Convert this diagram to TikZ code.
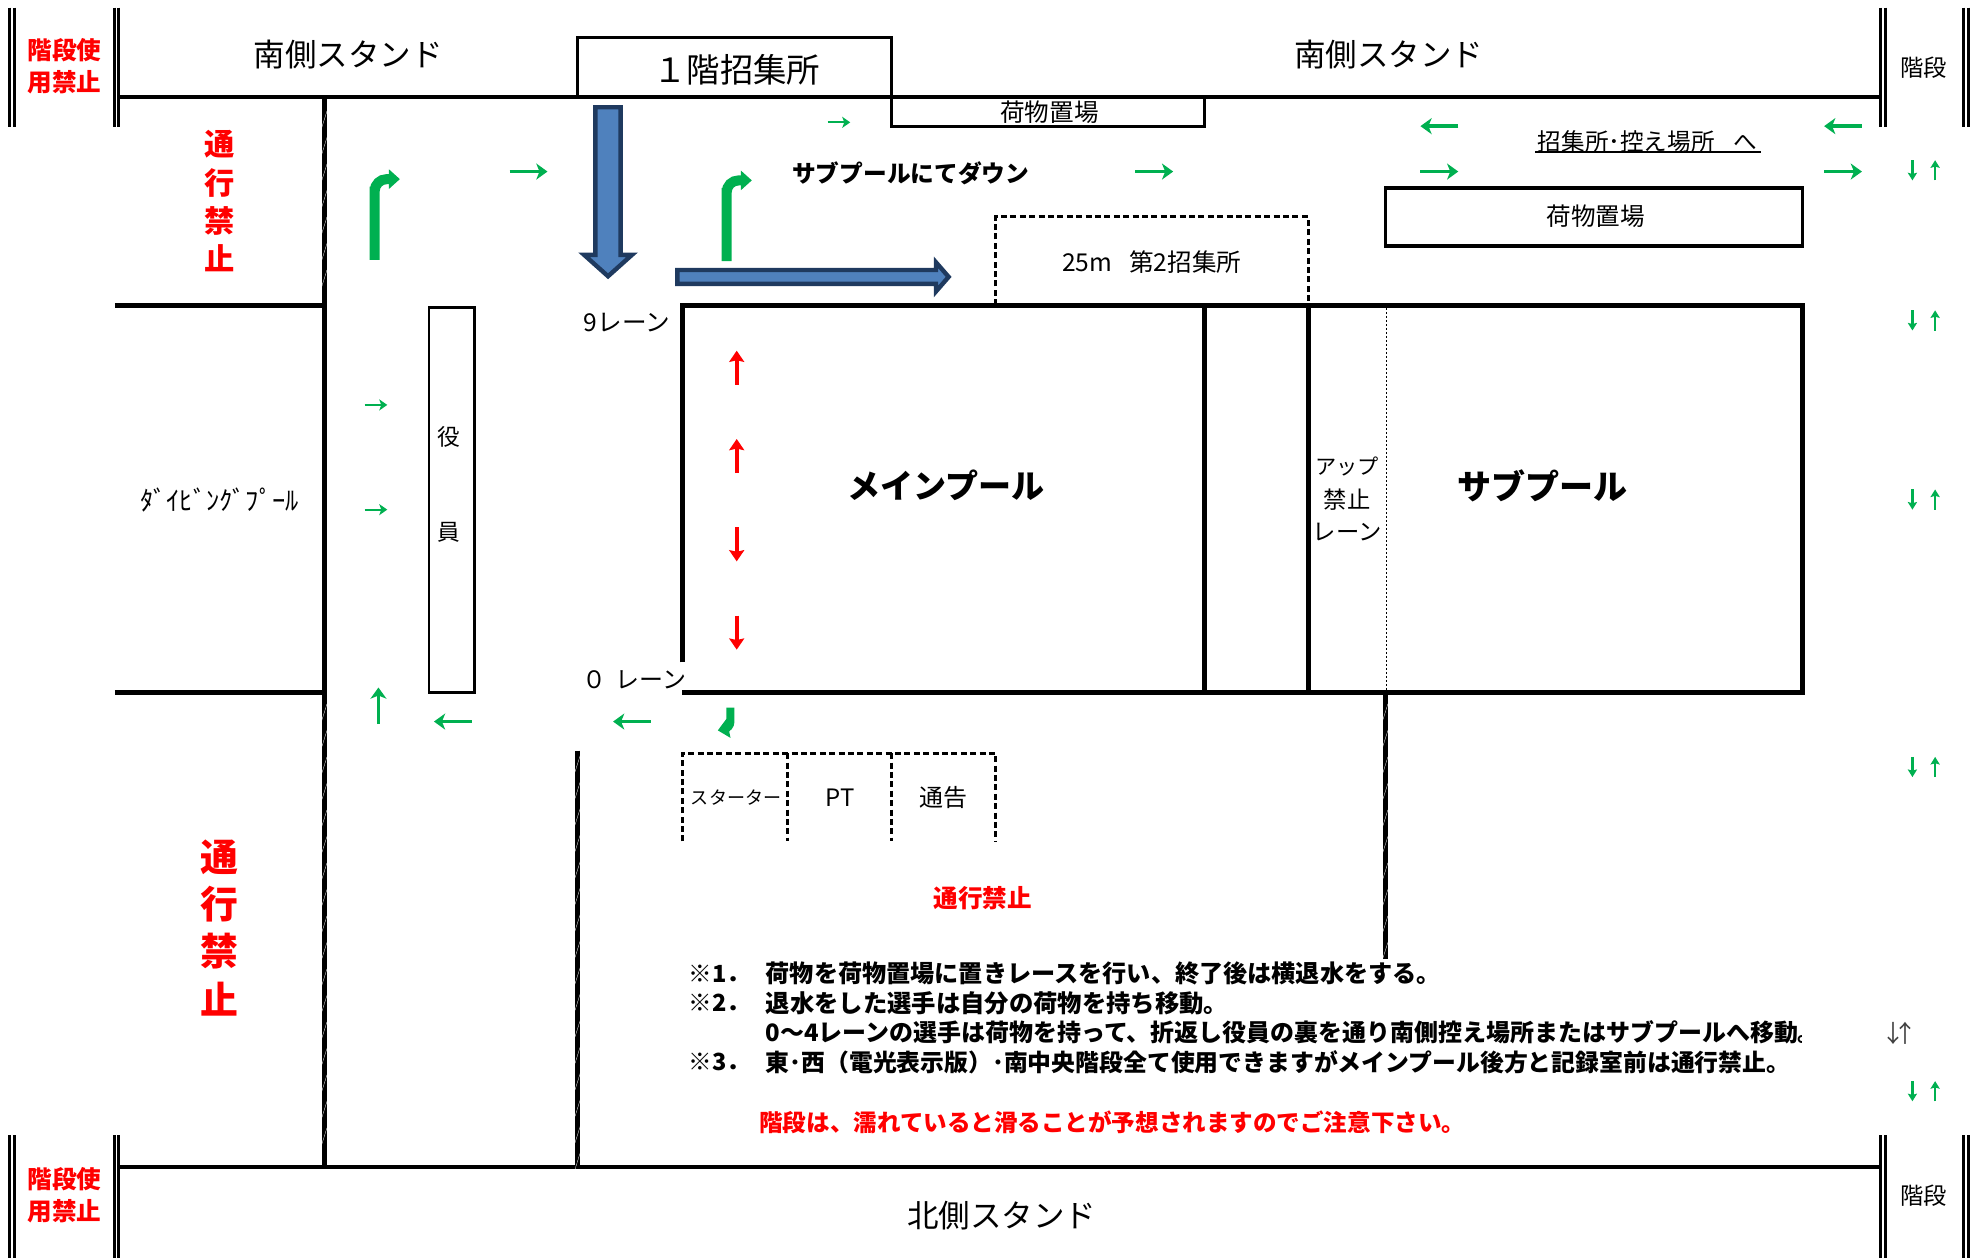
\documentclass[tikz,border=0pt]{standalone}
\usepackage{fontspec}
\setmainfont{Noto Sans CJK JP}
\usetikzlibrary{arrows.meta}
\newcommand\fsz[1]{\fontsize{\fpeval{#1*0.6307}}{\fpeval{#1*0.8}}\selectfont}
\definecolor{gr}{HTML}{00B050}
\definecolor{bluefill}{HTML}{4F81BD}
\definecolor{bluedark}{HTML}{1F3A5F}
\tikzset{
  wall/.style={line width=1.7pt,line cap=butt},
  thick wall/.style={line width=2.6pt},
  hatchwall/.style={line width=2.6pt},
  dashbox/.style={line width=1.5pt,dash pattern=on 3pt off 1.7pt},
  boxline/.style={line width=1.6pt,outer sep=0pt},
  dbl/.style={line width=1.5pt},
  gA/.style={draw=gr,line width=1.7pt,-{Stealth[length=5.6pt,width=8pt,inset=1.6pt]}},
  gS/.style={draw=gr,line width=1pt,-{Stealth[length=4pt,width=5.5pt,inset=1pt]}},
  gP/.style={draw=gr,line width=1.1pt,-{Stealth[length=3.8pt,width=4.6pt,inset=.6pt]}},
  gB/.style={draw=gr,line width=5pt,-{Stealth[length=5.5pt,width=9.5pt,inset=0pt]}},
  rA/.style={draw=red,line width=1.9pt,-{Stealth[length=5.6pt,width=7.5pt,inset=.8pt]}},
  bluearrow/.style={fill=bluefill,draw=bluedark,line width=2.2pt,line join=miter},
  txt/.style={inner sep=0pt,outer sep=0pt,text=black},
  redb/.style={inner sep=0pt,outer sep=0pt,text=red,font=\bfseries},
  blk/.style={inner sep=0pt,outer sep=0pt,text=black,font=\bfseries,anchor=west},
}
\newcommand\slashes[3]{\foreach \yy in {#2,#3,...,#1}{\draw[white,line width=.15pt] (\hx-2.2,\yy+7)--(\hx+2.2,\yy-7);}}
\begin{document}
\begin{tikzpicture}[x=0.6307pt,y=-0.6307pt]
\useasboundingbox (0,0) rectangle (1568,997.3);
% stair double lines
\foreach \x in {7.5,11.5,90.5,94,1491,1494.5,1556.5,1560.5}{
  \draw[dbl] (\x,6)--(\x,101);
  \draw[dbl] (\x,900)--(\x,997.3);
}
% stands
\draw[wall] (94,77)--(1491,77);
\draw[wall] (94,925)--(1491,925);
% hatched walls
\draw[hatchwall] (257,77)--(257,242);
\draw[thick wall] (257,242)--(257,549);
\draw[hatchwall] (257,549)--(257,925);
\draw[hatchwall] (458,595)--(458,925);
\draw[hatchwall] (1098,549)--(1098,760);
\def\hx{257}\slashes{240}{95}{116}\slashes{920}{565}{586}
\def\hx{458}\slashes{920}{605}{626}
\def\hx{1098}\slashes{755}{565}{586}
% diving pool
\draw[thick wall] (91,242)--(257,242);
\draw[thick wall] (91,549)--(257,549);
% main pool
\draw[thick wall] (541,525)--(541,242)--(1429,242)--(1429,549)--(541,549);
\draw[thick wall] (955,242)--(955,549);
\draw[thick wall] (1037,242)--(1037,549);
\draw[line width=.8pt,dash pattern=on 1.2pt off .8pt] (1099,244)--(1099,549);
% boxes
\node[draw,boxline,minimum width=157pt,minimum height=29.6pt,inner sep=0pt,anchor=north west,fill=white] (shushu) at (458,30) {};
\node[txt,font=\fsz{26.5}] (shushut) at (584,55) {１階招集所};
\node[draw,boxline,minimum width=156.4pt,minimum height=14.5pt,inner sep=0pt,anchor=north west] (nimotsuA) at (707,77) {};
\node[txt,font=\fsz{19.5}] (nimotsuAt) at (832,89) {荷物置場};
\node[draw,boxline,minimum width=208.7pt,minimum height=29pt,inner sep=0pt,anchor=north west] (nimotsuB) at (1098,149) {};
\node[txt,font=\fsz{19.5}] (nimotsuBt) at (1265,171) {荷物置場};
\draw[dashbox] (789,242)--(789,172)--(1037,172)--(1037,242);
\node[txt,font=\fsz{19.5}] (second) at (913,208) {25m\hspace{.7em}第2招集所};
\node[draw,line width=1.3pt,outer sep=0pt,minimum width=22.7pt,minimum height=192.4pt,inner sep=0pt,anchor=north west] (yakuin) at (340,244) {};
\node[txt,font=\fsz{18}] (yaku) at (356,346) {役};
\node[txt,font=\fsz{18}] (in) at (356,422) {員};
\draw[dashbox] (541,667)--(541,597)--(789,597)--(789,667);
\draw[dashbox] (624,597)--(624,667);
\draw[dashbox] (707,597)--(707,667);
\node[txt,font=\fsz{14.3}] (starter) at (583.5,632) {スターター};
\node[txt,font=\fsz{19}] (pt) at (666,632) {PT};
\node[txt,font=\fsz{19}] (tsukoku) at (748,632) {通告};
% stand labels
\node[txt,font=\fsz{25}] (s1) at (276,43) {南側スタンド};
\node[txt,font=\fsz{25}] (s2) at (1101,43) {南側スタンド};
\node[txt,font=\fsz{25}] (n1) at (794,964) {北側スタンド};
\node[txt,font=\fsz{18.5}] (k1) at (1525,54) {階段};
\node[txt,font=\fsz{18.5}] (k2) at (1525,948) {階段};
\node[redb,font=\fsz{19.5}\bfseries] (ka1) at (51,40) {階段使};
\node[redb,font=\fsz{19.5}\bfseries] (ka2) at (51,65) {用禁止};
\node[redb,font=\fsz{19.5}\bfseries] (kb1) at (51,935) {階段使};
\node[redb,font=\fsz{19.5}\bfseries] (kb2) at (51,960) {用禁止};
% no-entry
\node[redb,font=\fsz{24}\bfseries] (ta1) at (174,114) {通};
\node[redb,font=\fsz{24}\bfseries] (ta2) at (174,145) {行};
\node[redb,font=\fsz{24}\bfseries] (ta3) at (174,175) {禁};
\node[redb,font=\fsz{24}\bfseries] (ta4) at (174,205) {止};
\node[redb,font=\fsz{30}\bfseries] (tb1) at (174,680) {通};
\node[redb,font=\fsz{30}\bfseries] (tb2) at (174,717) {行};
\node[redb,font=\fsz{30}\bfseries] (tb3) at (174,754) {禁};
\node[redb,font=\fsz{30}\bfseries] (tb4) at (174,792) {止};
\node[redb,font=\fsz{19.5}\bfseries] (tc) at (779,712) {通行禁止};
% pool labels
\node[txt,font=\fsz{26.2}\bfseries] (main) at (750,385) {メインプール};
\node[txt,font=\fsz{27}\bfseries] (sub) at (1223,385) {サブプール};
\node[txt,font=\fsz{18.8}\bfseries] (down) at (722,137) {サブプールにてダウン};
\node[txt,font=\fsz{21}] (diving) at (174,396) {ﾀﾞｲﾋﾞﾝｸﾞﾌﾟｰﾙ};
\node[txt,font=\fsz{19.5}] (l9) at (497,256) {9レーン};
\node[txt,font=\fsz{19}] (l0) at (503,539) {０\hspace{.4em}レーン};
\node[txt,font=\fsz{16.8}] (up1) at (1068,370) {アップ};
\node[txt,font=\fsz{18.5}] (up2) at (1068,396) {禁止};
\node[txt,font=\fsz{18.5}] (up3) at (1068,422) {レーン};
\node[txt,font=\fsz{18.7}] (hikae) at (1306,112) {招集所･控え場所\hspace{.8em}へ};
\draw[line width=1.1pt] (1217,120.5)--(1396,120.5);
% blue arrows
\draw[bluearrow] (472,85)--(492,85)--(492,202)--(501,202)--(482,219)--(463,202)--(472,202)--cycle;
\draw[bluearrow] (537,214)--(742,214)--(742,208)--(752,219.5)--(742,231)--(742,225)--(537,225)--cycle;
% green bent arrows
\draw[gB] (297,206)--(297,148) [rounded corners=6pt] (297,200)--(297,142)--(317,142);
\draw[gB] (576,207)--(576,149) [rounded corners=6pt] (576,200)--(576,143)--(596,143);
\draw[gB,line width=4pt,rounded corners=3pt] (579,561)--(579,577)--(569,579);
% green straight arrows
\coordinate (a1) at (404,136); \coordinate (a1e) at (434,136);
\draw[gA] (a1)--(a1e);
\draw[gA] (900,136)--(930,136);
\draw[gS] (656,97)--(674,97);
\draw[gA] (1156,100)--(1126,100);
\draw[gA] (1126,136)--(1156,136);
\draw[gA] (1476,100)--(1446,100);
\draw[gA] (1446,136)--(1476,136);
\draw[gS] (289,321)--(307,321);
\draw[gS] (289,404)--(307,404);
\draw[gA] (300,574)--(300,545);
\draw[gA] (374,572)--(344,572);
\draw[gA] (516,572)--(486,572);
\foreach \y in {135,254,396,608,865}{
  \draw[gP] (1516,\y-8)--(1516,\y+8);
  \draw[gP] (1534,\y+8)--(1534,\y-8);
}
\node[txt,font=\fsz{19},text=black!75] (arrs) at (1506,819) {↓\hspace{-.5em}↑};
% red arrows
\draw[rA] (584,305)--(584,278);
\draw[rA] (584,375)--(584,348);
\draw[rA] (584,418)--(584,445);
\draw[rA] (584,488)--(584,515);
% notes
\node[blk,font=\fsz{18.7}\bfseries] (r1) at (546,772) {※1．};
\node[blk,font=\fsz{18.7}\bfseries] (r2) at (546,795) {※2．};
\node[blk,font=\fsz{18.7}\bfseries] (r3) at (546,842) {※3．};
\node[blk,font=\fsz{19.15}\bfseries] (t1) at (607,772) {荷物を荷物置場に置きレースを行い、終了後は横退水をする。};
\node[blk,font=\fsz{19.3}\bfseries] (t2) at (607,795) {退水をした選手は自分の荷物を持ち移動。};
\begin{scope}
\clip (600,805) rectangle (1428,832);
\node[blk,font=\fsz{19}\bfseries] (t3) at (607,818) {0～4レーンの選手は荷物を持って、折返し役員の裏を通り南側控え場所またはサブプールへ移動。};
\end{scope}
\node[blk,font=\fsz{18.9}\bfseries] (t4) at (607,842) {東･西（電光表示版）･南中央階段全て使用できますがメインプール後方と記録室前は通行禁止。};
\node[redb,anchor=west,font=\fsz{18.67}\bfseries] (t5) at (602,890) {階段は、濡れていると滑ることが予想されますのでご注意下さい。};
\end{tikzpicture}
\end{document}
